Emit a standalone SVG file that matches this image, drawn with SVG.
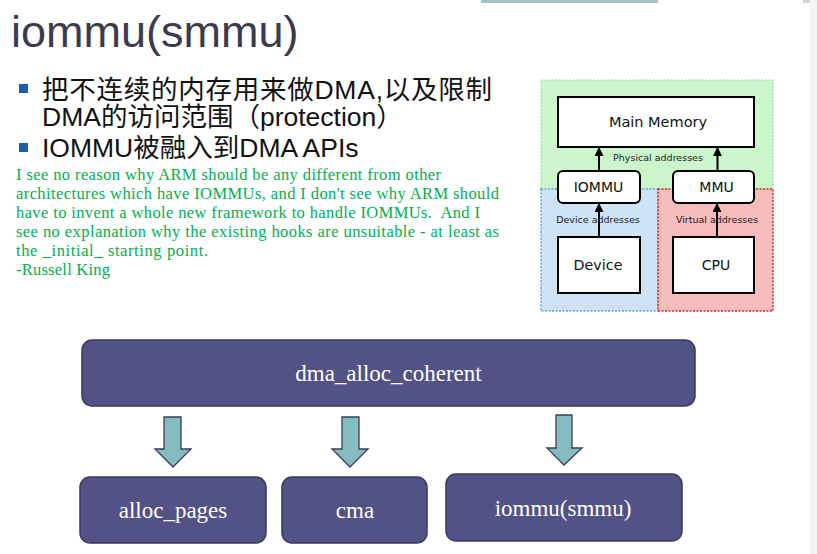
<svg xmlns="http://www.w3.org/2000/svg" width="817" height="554" viewBox="0 0 817 554">
<defs>
<style>
.title{font-family:"Liberation Sans","Noto Sans CJK SC",sans-serif;font-size:45px;fill:#3d3a4b}
.bul{font-family:"Liberation Sans","Noto Sans CJK SC",sans-serif;font-size:26.5px;fill:#111}
.quote{font-family:"Liberation Serif",serif;font-size:16.5px;fill:#00b050}
.sq{fill:#1f5ea8}
.dg{fill:#fff;stroke:#000;stroke-width:2}
.dt{font-family:"DejaVu Sans",sans-serif;fill:#111;text-anchor:middle}
.dl{font-family:"DejaVu Sans",sans-serif;font-size:9.5px;fill:#222;text-anchor:middle}
.box{fill:#525286;stroke:#3a3a5c;stroke-width:1.5}
.bt{font-family:"Liberation Serif",serif;font-size:23px;fill:#fff;text-anchor:middle}
.barrow{fill:#84bcc0;stroke:#3c3c5a;stroke-width:1.3}
.ln{stroke:#000;stroke-width:2;fill:none}
</style>
<marker id="ah" markerUnits="userSpaceOnUse" markerWidth="9" markerHeight="9" refX="8" refY="4.5" orient="auto">
<path d="M0,0 L9,4.5 L0,9 z" fill="#000"/>
</marker>
</defs>
<rect width="817" height="554" fill="#fff"/>
<rect x="481" y="0" width="177" height="3" fill="#a6c0c4"/>
<rect x="803" y="0" width="14" height="3" fill="#c5d6d9"/>
<rect x="810" y="0" width="7" height="554" fill="#f5f5f5"/>

<text class="title" x="11" y="47">iommu(smmu)</text>

<rect class="sq" x="19" y="84" width="9" height="9"/>
<text class="bul" x="42" y="99" textLength="450" lengthAdjust="spacing">把不连续的内存用来做DMA,以及限制</text>
<text class="bul" x="42" y="126">DMA的访问范围（protection）</text>
<rect class="sq" x="19" y="143" width="9" height="9"/>
<text class="bul" x="42" y="157">IOMMU被融入到DMA APIs</text>

<g id="quote">
<text class="quote" x="16" y="180" textLength="425" lengthAdjust="spacing">I see no reason why ARM should be any different from other</text>
<text class="quote" x="16" y="199" textLength="483" lengthAdjust="spacing">architectures which have IOMMUs, and I don't see why ARM should</text>
<text class="quote" x="16" y="218" textLength="464" lengthAdjust="spacing" xml:space="preserve">have to invent a whole new framework to handle IOMMUs.  And I</text>
<text class="quote" x="16" y="237" textLength="483" lengthAdjust="spacing">see no explanation why the existing hooks are unsuitable - at least as</text>
<text class="quote" x="16" y="256" textLength="192" lengthAdjust="spacing">the _initial_ starting point.</text>
<text class="quote" x="16" y="275" textLength="94" lengthAdjust="spacing">-Russell King</text>
</g>

<g id="mmu-figure">
<rect x="541" y="80" width="232" height="109" fill="#ccf5cc" stroke="#9ddc9d" stroke-width="1.2" stroke-dasharray="2 1.5"/>
<rect x="541" y="189" width="117" height="122" fill="#cfe3f6" stroke="#6aa6d6" stroke-width="1.5" stroke-dasharray="2 1.5"/>
<rect x="658" y="189" width="115" height="122" fill="#f7bcbc" stroke="#d42a2a" stroke-width="1.5" stroke-dasharray="2 1.5"/>
</g>

<g id="fig-connectors">
<line class="ln" x1="599" y1="171" x2="599" y2="148" marker-end="url(#ah)"/>
<line class="ln" x1="717.5" y1="171" x2="717.5" y2="148" marker-end="url(#ah)"/>
<line class="ln" x1="599" y1="237" x2="599" y2="204" marker-end="url(#ah)"/>
<line class="ln" x1="717" y1="237" x2="717" y2="204" marker-end="url(#ah)"/>
<text class="dl" x="658" y="161">Physical addresses</text>
<text class="dl" x="598" y="223">Device addresses</text>
<text class="dl" x="717" y="223">Virtual addresses</text>
</g>

<g id="main-memory">
<rect class="dg" x="558" y="97" width="196" height="50"/>
<text class="dt" x="658" y="127" font-size="14.5">Main Memory</text>
</g>
<g id="iommu-hw">
<rect class="dg" x="558" y="171" width="82" height="32" rx="5"/>
<text class="dt" x="598.5" y="192" font-size="14">IOMMU</text>
</g>
<g id="mmu">
<rect class="dg" x="673" y="171" width="81" height="32" rx="5"/>
<text class="dt" x="716.5" y="192" font-size="14">MMU</text>
</g>
<g id="device">
<rect class="dg" x="558" y="237" width="82" height="56"/>
<text class="dt" x="598" y="270" font-size="14.3">Device</text>
</g>
<g id="cpu">
<rect class="dg" x="673" y="237" width="81" height="56"/>
<text class="dt" x="716" y="270" font-size="14">CPU</text>
</g>

<g id="connectors">
<path class="barrow" d="M164,417 H181 V449 H191 L173,467 L155,449 H164 Z"/>
<path class="barrow" d="M342,417 H359 V449 H368 L350,467 L332,449 H342 Z"/>
<path class="barrow" d="M556,415 H572 V448 H582 L564,465 L547,448 H556 Z"/>
</g>

<g id="dma_alloc_coherent">
<rect class="box" x="82" y="340" width="613" height="66" rx="10"/>
<text class="bt" x="388.5" y="381">dma_alloc_coherent</text>
</g>
<g id="alloc_pages">
<rect class="box" x="80" y="477" width="186" height="66" rx="10"/>
<text class="bt" x="173" y="518">alloc_pages</text>
</g>
<g id="cma">
<rect class="box" x="282" y="477" width="145" height="66" rx="10"/>
<text class="bt" x="355" y="518">cma</text>
</g>
<g id="iommu-smmu">
<rect class="box" x="446" y="474" width="236" height="67" rx="10"/>
<text class="bt" x="563" y="516">iommu(smmu)</text>
</g>
</svg>
